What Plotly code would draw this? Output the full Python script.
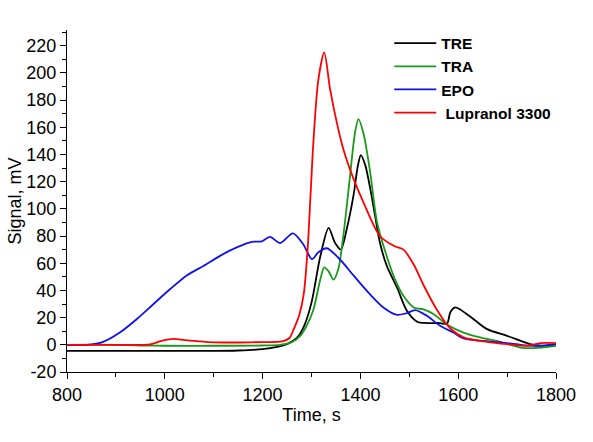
import plotly.graph_objects as go

# --- data ---
tre_t = [800, 900, 1000, 1100, 1150, 1200, 1230, 1250, 1270, 1285, 1300, 1318, 1335, 1348,
         1360, 1372, 1386, 1395, 1401, 1410, 1420, 1430, 1440, 1454, 1475, 1495, 1516, 1536,
         1563, 1577, 1584, 1594, 1604, 1631, 1659, 1700, 1747, 1768, 1800]
tre_y = [-4.5, -4.5, -4.5, -4.5, -4.2, -3.2, -1.5, 0.5, 5, 14, 31, 65, 86, 75,
         70, 85, 110, 132, 139.5, 132, 115, 95, 75, 58, 42, 25, 17, 16,
         16, 15.5, 24, 27.5, 26, 19, 11.5, 6.6, 0.5, -0.7, 0]

tra_t = [800, 900, 950, 1000, 1100, 1200, 1236, 1260, 1277, 1290, 1304, 1318, 1326, 1335,
         1345, 1355, 1365, 1377, 1389, 1396, 1406, 1420, 1434, 1454, 1471, 1488, 1509, 1529,
         1550, 1577, 1611, 1645, 1686, 1727, 1754, 1800]
tra_y = [0, 0, -0.5, -0.7, -0.7, -0.5, 0, 2, 6.6, 14, 26, 48, 57, 54,
         48, 56, 80, 118, 156, 166, 156, 127, 90, 65, 48, 36, 27.5, 26,
         22.5, 15, 9, 5.4, 2.2, -2, -2.4, -0.7]

epo_t = [800, 840, 874, 908, 943, 977, 1011, 1045, 1079, 1113, 1147, 1178, 1198, 1215,
         1236, 1262, 1283, 1301, 1314, 1331, 1355, 1386, 1420, 1447, 1475, 1495, 1512, 1536,
         1563, 1590, 1611, 1645, 1686, 1727, 1761, 1800]
epo_y = [0, 0, 2.2, 9, 19, 30, 41, 51, 58, 65.4, 71.6, 75.7, 76, 79.4,
         74.8, 82, 74, 63, 68, 71, 64, 51, 37, 27.5, 22, 23.3, 25.5, 21.3,
         14, 9, 4.7, 3, 1.8, 0, -0.7, 0.5]

lup_t = [800, 900, 970, 995, 1018, 1040, 1070, 1100, 1150, 1200, 1240, 1255, 1263, 1275,
         1284, 1292, 1298, 1304, 1314, 1326, 1338, 1352, 1365, 1386, 1406, 1440, 1468, 1488,
         1509, 1529, 1556, 1584, 1611, 1659, 1700, 1741, 1768, 1800]
lup_y = [0, 0, 0.3, 3, 4.3, 3.5, 2.5, 1.8, 1.7, 2, 2.5, 5, 11, 22,
         37, 70, 110, 150, 195, 215, 188, 163, 144, 122, 105, 80, 72.8, 70,
         59, 44, 26, 12, 5.5, 2.2, 0.5, -0.7, 1.2, 1.2]

y_ticks = [-20, 0, 20, 40, 60, 80, 100, 120, 140, 160, 180, 200, 220]
y_labels = [str(v) for v in y_ticks]  # plain hyphen like the original

series = [
    ("TRE", tre_t, tre_y, "#000000"),
    ("TRA", tra_t, tra_y, "#1a9a1a"),
    ("EPO", epo_t, epo_y, "#1010f0"),
    ("\u00a0Lupranol 3300", lup_t, lup_y, "#ff0000"),
]

fig = go.Figure()
for name, t, y, col in series:
    fig.add_trace(go.Scatter(x=t, y=y, name=name, mode="lines",
                             line=dict(color=col, width=1.8, shape="spline", smoothing=0.8)))

axis_font = dict(family="Liberation Sans, Arial, sans-serif", size=18, color="black")
fig.update_xaxes(range=[800, 1800], dtick=200, tick0=800, ticks="outside", ticklen=6,
                 tickcolor="black", showline=True, linecolor="black", linewidth=1,
                 showgrid=False, zeroline=False, tickfont=axis_font,
                 title=dict(text="Time, s", font=axis_font, standoff=2),
                 minor=dict(dtick=100, ticks="outside", ticklen=4, tickcolor="black"))
fig.update_yaxes(range=[-20, 231.5], tickvals=y_ticks, ticktext=y_labels,
                 ticks="outside", ticklen=6,
                 tickcolor="black", showline=True, linecolor="black", linewidth=1,
                 showgrid=False, zeroline=False, tickfont=axis_font,
                 title=dict(text="Signal, mV", font=axis_font, standoff=0),
                 minor=dict(dtick=10, tick0=0, ticks="outside", ticklen=4, tickcolor="black"))

fig.update_layout(
    width=593, height=442, autosize=False,
    margin=dict(l=67, r=37, t=30, b=70),
    plot_bgcolor="white", paper_bgcolor="white",
    legend=dict(x=0.659, y=1.010, xanchor="left", yanchor="top",
                bgcolor="rgba(0,0,0,0)", itemwidth=42,
                font=dict(family="Liberation Sans, Arial, sans-serif", size=15.5,
                          color="black", weight="bold")),
)

# page body has an 8px default margin; drop it so the figure sits at the window corner
fig.write_html("out.html", config={"displayModeBar": False},
               post_script="document.body.style.margin='0';")
